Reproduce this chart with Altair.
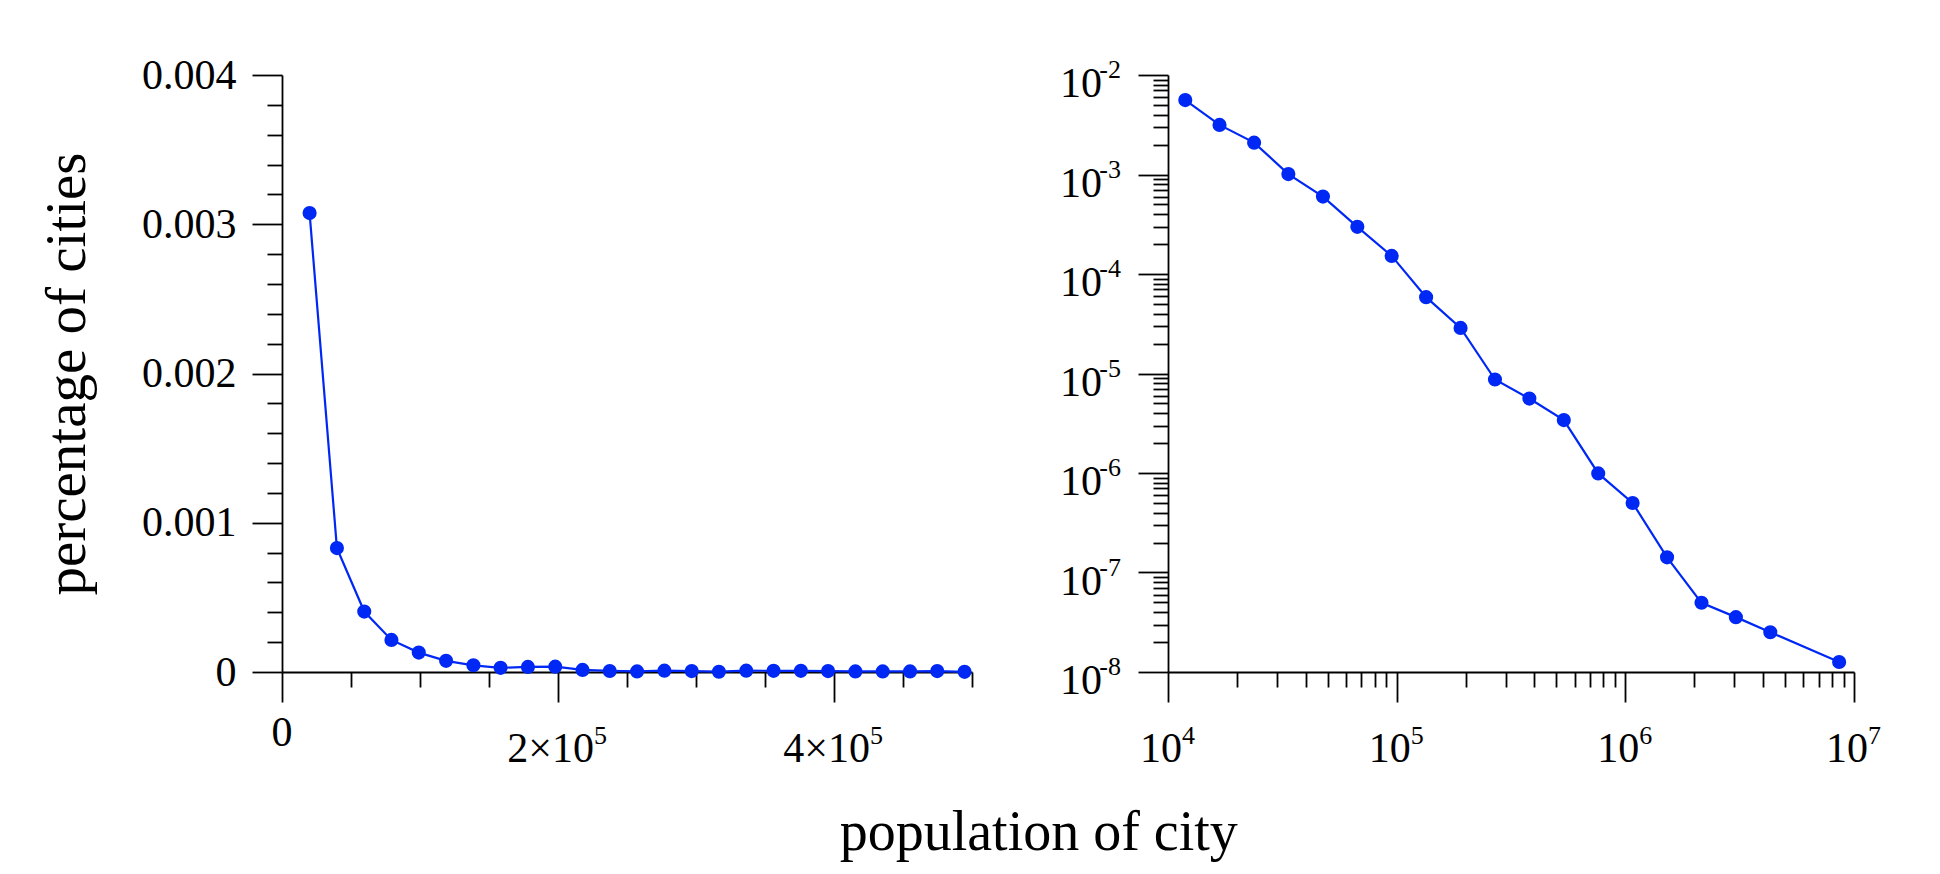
import altair as alt
import pandas as pd

# ---------------- data ----------------
# left panel: linear bins of city population
lin_pop = [20000, 39800, 59600, 79300, 99100, 118900, 138700, 158400, 178200, 198000,
           217800, 237500, 257300, 277100, 296900, 316600, 336400, 356200, 376000, 395700,
           415500, 435300, 455100, 474800, 494600]
lin_pct = [0.003075, 0.00083, 0.000405, 0.000215, 0.00013, 0.000075, 0.000045, 0.000028,
           0.000034, 0.000036, 0.000014, 0.000007, 0.000004, 0.000009, 0.000006, 0.000002,
           0.000009, 0.000008, 0.000008, 0.000006, 0.000004, 0.000004, 0.000004, 0.000006,
           0.000001]

# right panel: logarithmic bins
log_pop = [11900, 16800, 23800, 33600, 47600, 67300, 95100, 134500, 190300, 269100,
           380500, 538200, 761100, 1076000, 1522000, 2153000, 3044000, 4305000, 8610000]
log_pct = [5.6e-3, 3.15e-3, 2.09e-3, 1.01e-3, 6.0e-4, 2.98e-4, 1.52e-4, 5.85e-5, 2.87e-5,
           8.7e-6, 5.6e-6, 3.4e-6, 9.9e-7, 5.0e-7, 1.42e-7, 4.96e-8, 3.56e-8, 2.51e-8, 1.26e-8]

# tick values
lin_x_ticks = [0, 50000, 100000, 150000, 200000, 250000, 300000, 350000, 400000, 450000, 500000]
lin_y_ticks = [0, 0.0002, 0.0004, 0.0006, 0.0008, 0.001, 0.0012, 0.0014, 0.0016, 0.0018,
               0.002, 0.0022, 0.0024, 0.0026, 0.0028, 0.003, 0.0032, 0.0034, 0.0036, 0.0038, 0.004]
log_x_ticks = [1e4, 2e4, 3e4, 4e4, 5e4, 6e4, 7e4, 8e4, 9e4,
               1e5, 2e5, 3e5, 4e5, 5e5, 6e5, 7e5, 8e5, 9e5,
               1e6, 2e6, 3e6, 4e6, 5e6, 6e6, 7e6, 8e6, 9e6, 1e7]
log_y_ticks = []
for dec in [1e-8, 1e-7, 1e-6, 1e-5, 1e-4, 1e-3]:
    for m in [1, 2, 3, 4, 5, 6, 7, 8, 9]:
        log_y_ticks.append(m * dec)
log_y_ticks.append(1e-2)

# tick labels
lin_xlab_vals = [0, 200000, 400000]
lin_xlab_base = ["0", "2×10", "4×10"]
lin_xlab_exp = ["", "5", "5"]
log_xlab_vals = [1e4, 1e5, 1e6, 1e7]
log_xlab_base = ["10", "10", "10", "10"]
log_xlab_exp = ["4", "5", "6", "7"]
log_ylab_vals = [1e-2, 1e-3, 1e-4, 1e-5, 1e-6, 1e-7, 1e-8]
log_ylab_base = ["10"] * 7
log_ylab_exp = ["-2", "-3", "-4", "-5", "-6", "-7", "-8"]

# ---------------- style ----------------
FONT = "Liberation Serif"
BLUE = "#0028f5"
H = 597
WL = 690
WR = 686
LAB = 42
EXP = 26
MAJOR = 30
MINOR = 15
PT = 200
LW = 2.2

lin_major = "abs(datum.value/50000 - 4*round(datum.value/200000)) < 1e-6"
lin_y_major = "abs(datum.value*1000 - round(datum.value*1000)) < 1e-6"
log_major = "abs(log(datum.value)/LN10 - round(log(datum.value)/LN10)) < 1e-6"


def tsize(test):
    return {"condition": {"test": test, "value": MAJOR}, "value": MINOR}


ax_lx = alt.Axis(values=lin_x_ticks, tickSize=tsize(lin_major), labels=False,
                 title=None, domainWidth=1.8, tickWidth=1.8)
ax_ly = alt.Axis(values=lin_y_ticks, tickSize=tsize(lin_y_major),
                 labelExpr="abs(datum.value*1000 - round(datum.value*1000)) < 1e-6 ? (datum.value == 0 ? '0' : format(datum.value, '.3f')) : ''",
                 title="percentage of cities", titlePadding=45,
                 labelPadding=16, domainWidth=1.8, tickWidth=1.8)
ax_rx = alt.Axis(values=log_x_ticks, tickSize=tsize(log_major), labels=False,
                 title=None, domainWidth=1.8, tickWidth=1.8)
ax_ry = alt.Axis(values=log_y_ticks, tickSize=tsize(log_major), labels=False,
                 title=None, domainWidth=1.8, tickWidth=1.8)

# ---------------- left panel ----------------
left_df = pd.DataFrame({"pop": lin_pop, "pct": lin_pct})
xs_l = alt.Scale(domain=[0, 500000], nice=False, zero=False)
ys_l = alt.Scale(domain=[0, 0.004], nice=False)

base_l = alt.Chart(left_df).encode(
    x=alt.X("pop:Q", scale=xs_l, axis=ax_lx),
    y=alt.Y("pct:Q", scale=ys_l, axis=ax_ly),
)
line_l = base_l.mark_line(color=BLUE, strokeWidth=LW)
pts_l = base_l.mark_circle(color=BLUE, size=PT, opacity=1)

lxl = pd.DataFrame({"pop": lin_xlab_vals, "base": lin_xlab_base, "exp": lin_xlab_exp})
lx_plain = alt.Chart(lxl).transform_filter("datum.exp == ''").mark_text(
    align="center", baseline="alphabetic", font=FONT, fontSize=LAB, color="black"
).encode(x=alt.X("pop:Q", scale=xs_l, axis=ax_lx), y=alt.value(H + 74), text="base:N")
lx_base = alt.Chart(lxl).transform_filter("datum.exp != ''").mark_text(
    align="right", baseline="alphabetic", font=FONT, fontSize=LAB, color="black", dx=36
).encode(x=alt.X("pop:Q", scale=xs_l, axis=ax_lx), y=alt.value(H + 90), text="base:N")
lx_exp = alt.Chart(lxl).transform_filter("datum.exp != ''").mark_text(
    align="left", baseline="alphabetic", font=FONT, fontSize=EXP, color="black", dx=36
).encode(x=alt.X("pop:Q", scale=xs_l, axis=ax_lx), y=alt.value(H + 72), text="exp:N")

left = alt.layer(line_l, pts_l, lx_plain, lx_base, lx_exp).properties(width=WL, height=H)

# ---------------- right panel ----------------
right_df = pd.DataFrame({"pop": log_pop, "pct": log_pct})
xs_r = alt.Scale(type="log", domain=[1e4, 1e7], nice=False)
ys_r = alt.Scale(type="log", domain=[1e-8, 1e-2], nice=False)

base_r = alt.Chart(right_df).encode(
    x=alt.X("pop:Q", scale=xs_r, axis=ax_rx),
    y=alt.Y("pct:Q", scale=ys_r, axis=ax_ry),
)
line_r = base_r.mark_line(color=BLUE, strokeWidth=LW)
pts_r = base_r.mark_circle(color=BLUE, size=PT, opacity=1)

rxl = pd.DataFrame({"pop": log_xlab_vals, "base": log_xlab_base, "exp": log_xlab_exp})
rx_base = alt.Chart(rxl).mark_text(
    align="right", baseline="alphabetic", font=FONT, fontSize=LAB, color="black", dx=14
).encode(x=alt.X("pop:Q", scale=xs_r, axis=ax_rx), y=alt.value(H + 90), text="base:N")
rx_exp = alt.Chart(rxl).mark_text(
    align="left", baseline="alphabetic", font=FONT, fontSize=EXP, color="black", dx=14
).encode(x=alt.X("pop:Q", scale=xs_r, axis=ax_rx), y=alt.value(H + 72), text="exp:N")

ryl = pd.DataFrame({"pct": log_ylab_vals, "base": log_ylab_base, "exp": log_ylab_exp})
ry_base = alt.Chart(ryl).mark_text(
    align="right", baseline="alphabetic", font=FONT, fontSize=LAB, color="black", dy=22
).encode(y=alt.Y("pct:Q", scale=ys_r, axis=ax_ry), x=alt.value(-66), text="base:N")
ry_exp = alt.Chart(ryl).mark_text(
    align="right", baseline="alphabetic", font=FONT, fontSize=EXP, color="black", dy=3
).encode(y=alt.Y("pct:Q", scale=ys_r, axis=ax_ry), x=alt.value(-47), text="exp:N")

right = alt.layer(line_r, pts_r, rx_base, rx_exp, ry_base, ry_exp).properties(width=WR, height=H)

chart = alt.hconcat(left, right, spacing=87).properties(
    title=alt.TitleParams("population of city", orient="bottom", anchor="middle",
                          font=FONT, fontSize=56, fontWeight="normal", color="black",
                          offset=36, dx=79),
    padding={"left": 30, "top": 46, "right": 5, "bottom": 5},
).configure_view(stroke=None).configure_axis(
    domainColor="black", tickColor="black", grid=False,
    labelFont=FONT, labelFontSize=LAB, labelColor="black",
    titleFont=FONT, titleFontSize=57, titleFontWeight="normal", titleColor="black",
)

chart.save("out.html", embed_options={"renderer": "svg", "actions": False})
